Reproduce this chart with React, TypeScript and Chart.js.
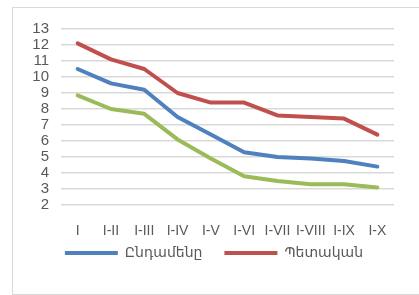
import React, { useEffect, useRef } from "react";
import { Chart, registerables } from "chart.js";

Chart.register(...registerables);

const categories = ["I", "I-II", "I-III", "I-IV", "I-V", "I-VI", "I-VII", "I-VIII", "I-IX", "I-X"];
const totalValues = [10.5, 9.6, 9.2, 7.5, 6.4, 5.3, 5.0, 4.9, 4.75, 4.4];
const stateValues = [12.1, 11.1, 10.5, 9.0, 8.4, 8.4, 7.6, 7.5, 7.4, 6.4];
const otherValues = [8.85, 8.0, 7.7, 6.1, 4.9, 3.8, 3.5, 3.3, 3.3, 3.1];
const seriesNames = ["Ընդամենը", "Պետական", ""];
const yMin = 2;
const yMax = 13;

const FONT = "'Liberation Sans', 'DejaVu Sans', sans-serif";

const legendShift = {
  id: "legendShift",
  afterLayout(chart: any) {
    const lg = chart.legend;
    if (lg) {
      lg.right += 21;
      lg.top -= 16;
      lg.bottom -= 16;
    }
  },
};

export default function App() {
  const ref = useRef<HTMLCanvasElement | null>(null);
  useEffect(() => {
    if (!ref.current) return;
    const mk = (label: string, data: number[], color: string) => ({
      label,
      data,
      borderColor: color,
      backgroundColor: color,
      borderWidth: 4,
      pointRadius: 0,
      tension: 0,
      borderCapStyle: "round" as const,
      borderJoinStyle: "round" as const,
    });
    const chart = new Chart(ref.current, {
      type: "line",
      data: {
        labels: categories,
        datasets: [
          mk(seriesNames[0], totalValues, "#4F81BD"),
          mk(seriesNames[1], stateValues, "#C0504D"),
          mk(seriesNames[2], otherValues, "#9BBB59"),
        ],
      },
      plugins: [legendShift],
      options: {
        animation: false,
        responsive: false,
        maintainAspectRatio: false,
        layout: { padding: { left: 0, right: 26, top: 13, bottom: 8 } },
        plugins: {
          tooltip: { enabled: false },
          legend: {
            position: "bottom",
            labels: {
              color: "#595959",
              font: { family: FONT, size: 14 },
              boxWidth: 53,
              boxHeight: 4,
              padding: 22,
              filter: (item) => item.text !== "",
              generateLabels: (c) =>
                c.data.datasets.map((d, i) => ({
                  text: d.label as string,
                  fillStyle: d.borderColor as string,
                  strokeStyle: d.borderColor as string,
                  lineWidth: 0,
                  datasetIndex: i,
                  hidden: false,
                  fontColor: "#595959",
                })),
            },
          },
        },
        scales: {
          x: {
            offset: true,
            afterFit: (s) => {
              s.height = 35;
            },
            grid: { display: false, drawTicks: false },
            border: { display: false },
            ticks: {
              color: "#595959",
              font: { family: FONT, size: 14 },
              padding: 18,
              maxRotation: 0,
              autoSkip: false,
            },
          },
          y: {
            min: yMin,
            max: yMax,
            afterFit: (s) => {
              s.width = 48;
            },
            grid: { color: "#d9d9d9", lineWidth: 1.5, drawTicks: false },
            border: { display: false },
            ticks: {
              stepSize: 1,
              autoSkip: false,
              color: "#595959",
              font: { family: FONT, size: 15 },
              padding: 12,
            },
          },
        },
      },
    });
    return () => chart.destroy();
  }, []);
  return (
    <div
      style={{
        position: "absolute",
        left: 12,
        top: 7,
        width: 420,
        height: 286,
        border: "1px solid #d9d9d9",
        background: "#fff",
        overflow: "hidden",
      }}
    >
      <canvas ref={ref} width={407} height={286} style={{ display: "block" }} />
    </div>
  );
}
